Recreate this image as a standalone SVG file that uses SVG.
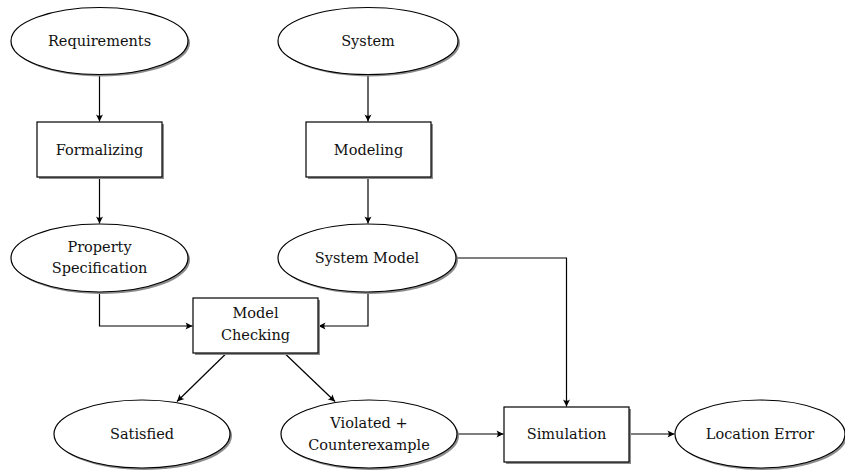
<svg xmlns="http://www.w3.org/2000/svg" width="845" height="470" viewBox="0 0 845 470">
<defs>
<filter id="sh" x="-10%" y="-10%" width="125%" height="130%">
<feGaussianBlur stdDeviation="0.6"/>
</filter>
<marker id="ah" viewBox="-8 -4 9 8" refX="0" refY="0" markerWidth="9" markerHeight="8" markerUnits="userSpaceOnUse" orient="auto">
<path d="M0,0 L-7,-3.5 Q-4.5,0 -7,3.5 Z" fill="#000"/>
</marker>
</defs>
<style>
.n{fill:#fff;stroke:#000;stroke-width:1.2}
.s{fill:#8c8c8c;filter:url(#sh)}
.t{font-family:"DejaVu Serif","Liberation Serif",serif;font-size:14.5px;fill:#111;text-anchor:middle}
.c{fill:none;stroke:#000;stroke-width:1.2;marker-end:url(#ah)}
</style>
<rect width="845" height="470" fill="#fff"/>
<g id="connectors">
<path class="c" d="M99.5,74.5 V121.5"/>
<path class="c" d="M368,74.5 V121.5"/>
<path class="c" d="M99.5,177 V223.5"/>
<path class="c" d="M368,177 V223.5"/>
<path class="c" d="M99.5,292 V326 H192.5"/>
<path class="c" d="M368,292 V326 H318.5"/>
<path class="c" d="M226.7,353 L177,401.5"/>
<path class="c" d="M284.3,353 L335,401.5"/>
<path class="c" d="M456,258 H566.5 V406.5"/>
<path class="c" d="M457,434 H503.5"/>
<path class="c" d="M629,434 H674.5"/>
</g>
<g id="requirements">
<ellipse class="s" cx="101.5" cy="43" rx="88.5" ry="33.5"/>
<ellipse class="n" cx="99.5" cy="41" rx="88.5" ry="33.5"/>
<text class="t" x="99.5" y="46">Requirements</text>
</g>
<g id="system">
<ellipse class="s" cx="370" cy="43" rx="90" ry="33.5"/>
<ellipse class="n" cx="368" cy="41" rx="90" ry="33.5"/>
<text class="t" x="368" y="46">System</text>
</g>
<g id="formalizing">
<rect class="s" x="39" y="124" width="125" height="55"/>
<rect class="n" x="37" y="122" width="125" height="55"/>
<text class="t" x="99.5" y="154.5">Formalizing</text>
</g>
<g id="modeling">
<rect class="s" x="308" y="124" width="125" height="55"/>
<rect class="n" x="306" y="122" width="125" height="55"/>
<text class="t" x="368.5" y="154.5">Modeling</text>
</g>
<g id="property-specification">
<ellipse class="s" cx="101.5" cy="260" rx="88.5" ry="34"/>
<ellipse class="n" cx="99.5" cy="258" rx="88.5" ry="34"/>
<text class="t" x="99.5" y="251.5">Property</text>
<text class="t" x="99.5" y="273">Specification</text>
</g>
<g id="system-model">
<ellipse class="s" cx="369" cy="260" rx="89" ry="34"/>
<ellipse class="n" cx="367" cy="258" rx="89" ry="34"/>
<text class="t" x="367" y="263">System Model</text>
</g>
<g id="model-checking">
<rect class="s" x="195" y="300" width="125" height="55"/>
<rect class="n" x="193" y="298" width="125" height="55"/>
<text class="t" x="255.5" y="318">Model</text>
<text class="t" x="255.5" y="340">Checking</text>
</g>
<g id="satisfied">
<ellipse class="s" cx="144" cy="436" rx="88" ry="34"/>
<ellipse class="n" cx="142" cy="434" rx="88" ry="34"/>
<text class="t" x="142" y="439">Satisfied</text>
</g>
<g id="violated">
<ellipse class="s" cx="371" cy="436" rx="88" ry="34"/>
<ellipse class="n" cx="369" cy="434" rx="88" ry="34"/>
<text class="t" x="369" y="428">Violated +</text>
<text class="t" x="369" y="450">Counterexample</text>
</g>
<g id="simulation">
<rect class="s" x="506" y="409" width="125" height="55"/>
<rect class="n" x="504" y="407" width="125" height="55"/>
<text class="t" x="566.5" y="439">Simulation</text>
</g>
<g id="location-error">
<ellipse class="s" cx="762" cy="436" rx="85" ry="34"/>
<ellipse class="n" cx="760" cy="434" rx="85" ry="34"/>
<text class="t" x="760" y="439">Location Error</text>
</g>
</svg>
